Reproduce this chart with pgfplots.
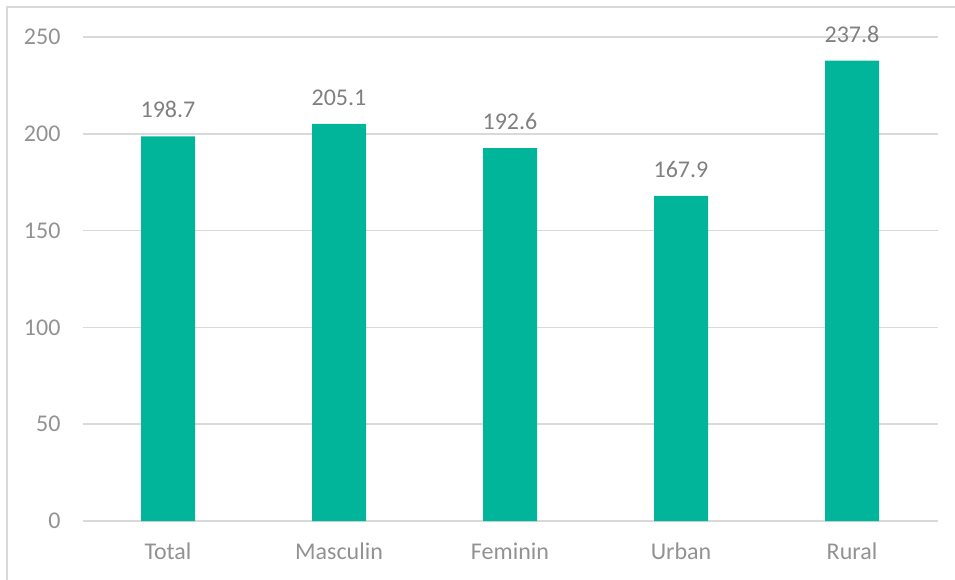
\documentclass[border=0pt]{standalone}
\usepackage{pgfplots}
\pgfplotsset{compat=1.18}
\usepackage{fontspec}
\setmainfont{Carlito}
\definecolor{barcol}{HTML}{00B59A}
\definecolor{gridcol}{HTML}{D9D9D9}
\definecolor{txtcol}{HTML}{808080}
\definecolor{tickcol}{HTML}{929292}
\begin{document}
\begin{tikzpicture}
\useasboundingbox (0pt,0pt) rectangle (716.25pt,434.25pt);
\draw[gridcol, line width=1.5pt] (4.875pt,-5pt) -- (4.875pt,429pt) -- (720pt,429pt);
\begin{axis}[
  at={(126pt,43.5pt)}, anchor=origin,
  scale only axis,
  width=641.25pt, height=363pt,
  ymin=0, ymax=250,
  xmin=-0.5, xmax=4.5,
  ytick={0,50,100,150,200,250},
  xtick=data,
  xticklabels={Total,Masculin,Feminin,Urban,Rural},
  major tick length=0pt,
  axis line style={draw=none},
  ymajorgrids,
  grid style={gridcol, line width=1.2pt},
  /pgf/number format/assume math mode=true,
  ticklabel style={font=\fontsize{18}{21.6}\selectfont, text=tickcol},
  yticklabel style={xshift=-13pt},
  xticklabel style={yshift=-13pt},
  nodes near coords,
  nodes near coords style={font=\fontsize{18}{21.6}\selectfont, text=txtcol, yshift=10.2pt,
    /pgf/number format/fixed, /pgf/number format/fixed zerofill,
    /pgf/number format/precision=1, /pgf/number format/assume math mode=true},
  clip=false,
]
\addplot[ybar, bar width=40.5pt, fill=barcol, draw=none] coordinates {
  (0,198.7) (1,205.1) (2,192.6) (3,167.9) (4,237.8)
};
\end{axis}
\end{tikzpicture}
\end{document}
